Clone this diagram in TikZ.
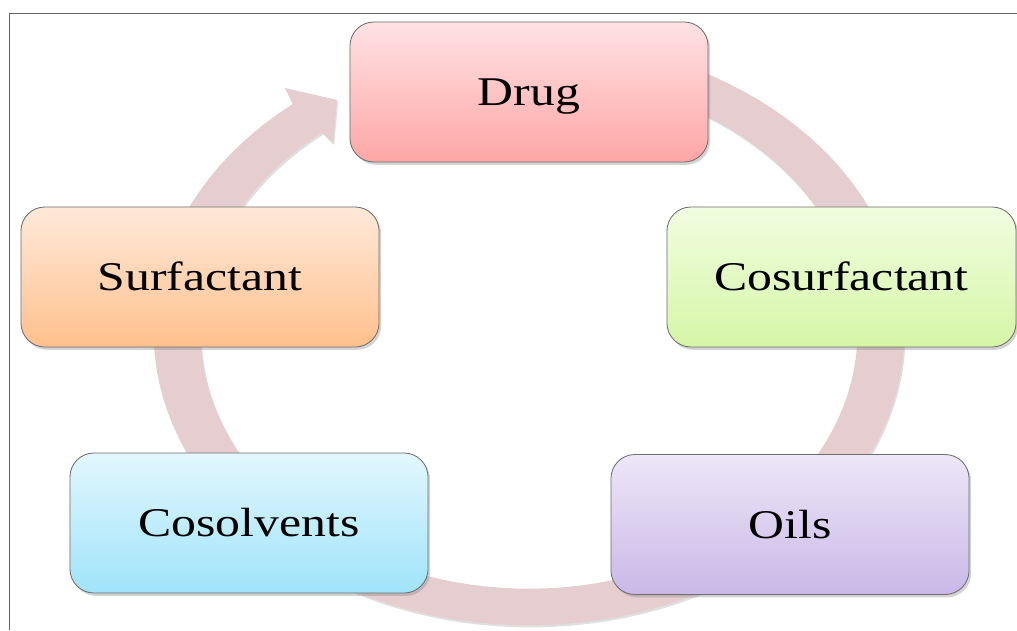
\documentclass[tikz,border=0pt]{standalone}
\usepackage{fontspec}
\setmainfont[FakeStretch=1.22]{Liberation Serif}
\usetikzlibrary{shadows}
\definecolor{ringcol}{RGB}{230,206,208}
\definecolor{framecol}{RGB}{100,100,100}
\definecolor{boxline}{RGB}{110,110,110}
\definecolor{drugtop}{RGB}{255,226,228}
\definecolor{drugbot}{RGB}{255,166,166}
\definecolor{cosurftop}{RGB}{240,253,224}
\definecolor{cosurfbot}{RGB}{214,246,166}
\definecolor{surftop}{RGB}{255,233,218}
\definecolor{surfbot}{RGB}{255,192,140}
\definecolor{cosolvtop}{RGB}{226,247,253}
\definecolor{cosolvbot}{RGB}{160,228,250}
\definecolor{oilstop}{RGB}{237,231,248}
\definecolor{oilsbot}{RGB}{202,184,232}
\tikzset{cyclebox/.style={draw=boxline,line width=0.6pt,rounded corners=0.6cm,
    minimum width=8.95cm,minimum height=3.5cm,text height=19.2pt,text depth=0pt,
    font=\fontsize{29}{34}\selectfont,
    drop shadow={shadow xshift=1.5pt,shadow yshift=-2pt,opacity=0.35}}}

\begin{document}
\begin{tikzpicture}[x=0.025cm,y=-0.025cm]
  \useasboundingbox (0,0) rectangle (1017,630);
  \draw[framecol,line width=0.7pt] (1017,13) -- (9,13) -- (9,630);

  %ring with arrow head
  \fill[ringcol,drop shadow={shadow xshift=0.8pt,shadow yshift=-1.5pt,opacity=0.25}]
    plot[domain=-100:231,samples=120,variable=\t] ({529+375.5*cos(-\t)},{332-293.3*sin(-\t)})
    -- (285,88) -- (337,100) -- (333,143)
    -- plot[domain=-231:100,samples=120,variable=\t] ({529+328.5*cos(\t)},{332-256.7*sin(\t)})
    -- cycle;

  %boxes
  \node[cyclebox,top color=drugtop,bottom color=drugbot] (drug) at (529,92) {Drug};
  \node[cyclebox,minimum width=8.725cm,top color=cosurftop,bottom color=cosurfbot] (cosurf) at (841.5,277) {Cosurfactant};
  \node[cyclebox,top color=oilstop,bottom color=oilsbot] (oils) at (790,524.5) {Oils};
  \node[cyclebox,top color=cosolvtop,bottom color=cosolvbot] (cosolv) at (249,523) {Cosolvents};
  \node[cyclebox,top color=surftop,bottom color=surfbot] (surf) at (200,277) {Surfactant};
\end{tikzpicture}
\end{document}
